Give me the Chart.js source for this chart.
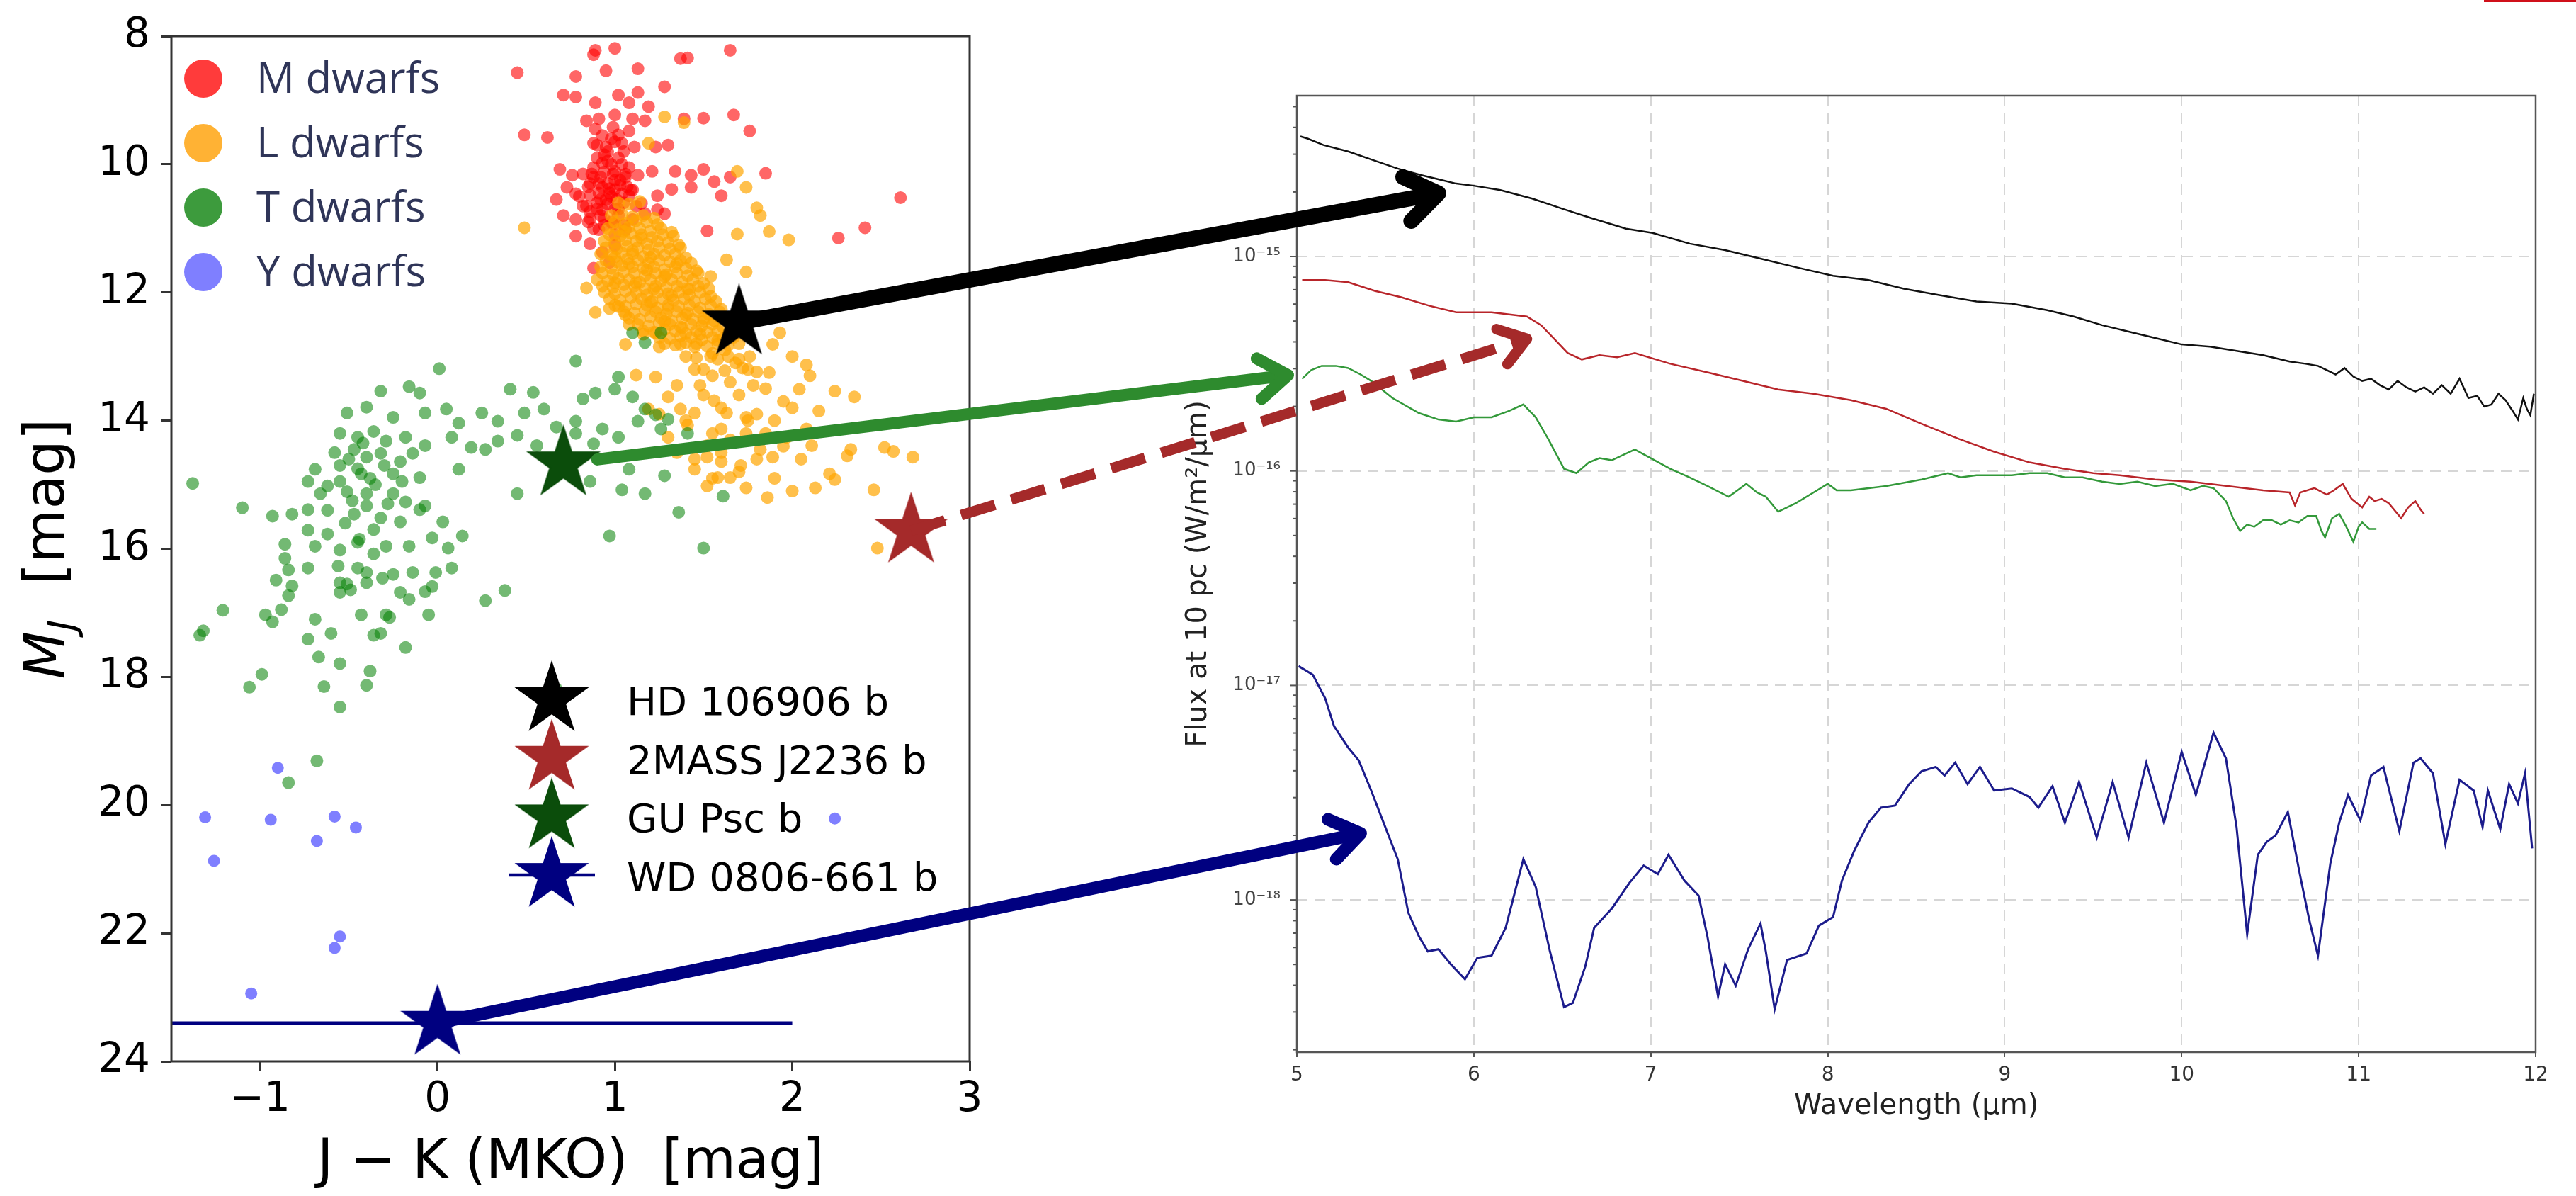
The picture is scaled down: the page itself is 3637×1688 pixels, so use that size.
<!DOCTYPE html>
<html>
<head>
<meta charset="utf-8">
<title>Brown dwarf CMD and mid-IR spectra</title>
<script src="https://cdn.jsdelivr.net/npm/chart.js"></script>
<style>
  body { margin: 0; background: #fff; width: 3637px; height: 1688px; overflow: hidden; position: relative; }
  canvas { position: absolute; top: 0; }
  #cmd { left: 0; }
  #spec { left: 1600px; }
  #arrows { left: 0; pointer-events: none; }
  #corner { position: absolute; left: 3507px; top: 0; width: 130px; height: 3px; background: #d0101a; }
</style>
</head>
<body>
<canvas id="cmd" width="1450" height="1688"></canvas>
<canvas id="spec" width="2037" height="1688"></canvas>
<canvas id="arrows" width="3637" height="1688"></canvas>
<div id="corner"></div>

<script>
// ---------- left panel: J-K (MKO) vs M_J ----------
const dwarfLabels = ['M dwarfs', 'L dwarfs', 'T dwarfs', 'Y dwarfs'];

const mDwarfs = [
  [0.45,8.57],[0.78,8.63],[0.89,8.22],[1.00,8.19],[0.88,8.29],[0.95,8.54],[1.13,8.51],[1.37,8.35],[1.41,8.34],[1.65,8.22],
  [0.71,8.92],[0.78,8.95],[0.89,9.04],[1.02,8.92],[1.08,9.04],[1.13,8.88],[1.19,9.10],[1.28,8.79],
  [0.84,9.32],[0.91,9.29],[1.00,9.23],[1.10,9.29],[1.17,9.32],[1.39,9.29],[1.50,9.28],[1.67,9.23],[1.76,9.48],
  [0.49,9.54],[0.62,9.58],[0.89,9.45],[0.99,9.42],[1.02,9.54],[1.08,9.48],
  [0.88,9.67],[0.95,9.73],[1.04,9.67],[1.11,9.73],[1.23,9.73],[1.30,9.70],
  [0.69,10.08],[0.76,10.17],[0.88,10.05],[0.93,9.98],[1.00,10.11],[1.08,10.05],[1.13,10.17],[1.21,10.11],[1.34,10.11],[1.43,10.17],[1.50,10.08],[1.56,10.27],[1.65,10.20],[1.85,10.14],
  [0.67,10.55],[0.73,10.36],[0.78,10.46],[0.86,10.30],[0.93,10.36],[1.00,10.39],[1.08,10.49],[1.15,10.61],[1.24,10.49],[1.32,10.39],[1.43,10.36],[1.60,10.49],
  [2.61,10.52],[1.52,11.04],[2.41,10.99],[2.26,11.15],
  [0.71,10.80],[0.78,10.86],[0.86,10.74],[0.93,10.71],[1.02,10.80],[1.10,10.86],[1.17,10.77],
  [0.78,11.12],[0.86,11.24],[0.91,11.02],[0.99,10.93],[1.06,11.02],[0.93,11.37],[1.00,11.27],[0.88,11.62],[0.97,11.53],[1.24,10.71],[1.28,10.77],
  [0.92,10.20],[0.96,10.30],[0.98,10.00],[1.03,10.25],[0.95,10.55],[1.05,10.60],[0.90,10.60],[1.00,10.70],[0.94,9.85],[1.02,9.90],
  [1.07,10.35],[0.97,10.45],[1.10,10.40],[0.85,10.90],[1.00,11.10],[1.05,10.95],[0.90,9.90],[0.98,9.60],[1.04,10.00],
  [0.96,9.95],[1.06,10.15],[0.91,10.45],[1.01,10.55],[0.87,10.15],[0.94,10.85],[1.12,10.65],[0.82,10.65],[0.99,10.15],
  [0.82,10.15],[0.88,10.20],[0.94,10.12],[1.00,10.25],[1.06,10.20],[0.85,10.35],[0.91,10.30],[0.97,10.38],[1.03,10.32],[1.09,10.40],
  [0.80,10.50],[0.86,10.48],[0.92,10.55],[0.98,10.50],[1.04,10.46],[0.84,10.65],[0.90,10.70],[0.96,10.62],[1.02,10.70],[0.86,10.85],
  [0.92,10.80],[0.98,10.90],[0.88,11.00],[0.94,10.95],[0.90,9.70],[0.96,9.80],[1.00,9.65],[0.93,9.55],[1.05,9.80]
];

const lDwarfs = [
  [1.28,9.26],[1.39,9.35],[1.19,9.67],[0.49,10.99],[1.69,10.11],[1.74,10.36],[1.80,10.68],[1.82,10.80],[1.69,11.09],[1.87,11.05],
  [1.98,11.18],[1.63,11.49],[1.74,11.68],[1.54,11.75],[0.84,11.93],[0.89,12.31],[1.02,12.22],[1.08,12.50],[1.06,12.81],[1.23,12.63],
  [1.37,12.81],[1.54,13.00],[1.89,12.81],[1.93,12.63],[2.00,13.00],[2.08,13.13],[1.87,13.25],[2.04,13.51],[2.24,13.54],[2.35,13.63],
  [2.15,13.85],[2.08,14.13],[1.97,14.26],[2.11,14.39],[2.33,14.45],[2.52,14.42],[2.57,14.48],[2.68,14.57],[2.31,14.55],[2.21,14.83],
  [2.24,14.92],[2.13,15.05],[2.46,15.08],[2.48,15.99],[1.86,15.20],[1.74,15.05],[1.52,15.02],[1.45,14.76],[1.58,14.89],[1.65,14.89],
  [1.23,13.32],[1.12,13.29],[1.30,13.63],[1.37,13.82],[1.45,13.88],[1.56,13.69],[1.63,13.88],[1.74,13.95],[1.60,14.13],[1.52,14.39],
  [1.74,14.20],[1.82,14.45],[1.89,14.57],[1.52,14.57],[1.60,14.64],[1.71,14.70],[1.30,14.26],[1.41,14.07],[1.19,13.82],
  [1.45,13.20],[1.55,13.30],[1.65,13.40],[1.75,13.20],[1.85,13.50],[1.95,13.70],[1.50,13.60],[1.60,13.80],[1.70,13.60],[1.80,13.90],
  [1.90,14.00],[2.00,13.80],[1.40,14.00],[1.55,14.20],[1.65,14.30],[1.75,14.00],[1.85,14.20],[1.95,14.40],[2.05,14.60],[1.60,14.50],
  [1.70,14.80],[1.80,14.60],[1.90,14.90],[2.00,15.10],[1.45,14.60],[1.55,14.90],[1.35,14.50],[1.25,13.90],[1.68,13.10],[1.78,13.45],
  [2.10,13.30],[1.35,13.45],[1.48,13.45],
  [1.02,10.60],[1.08,10.62],[1.14,10.58],
  [0.98,10.80],[1.04,10.78],[1.10,10.82],[1.16,10.80],[1.22,10.84],
  [0.96,11.00],[1.02,11.02],[1.08,10.98],[1.14,11.00],[1.20,11.04],[1.26,11.00],[1.32,11.06],
  [0.94,11.20],[1.00,11.22],[1.06,11.18],[1.12,11.20],[1.18,11.24],[1.24,11.20],[1.30,11.22],[1.36,11.26],
  [0.92,11.40],[0.98,11.42],[1.04,11.38],[1.10,11.40],[1.16,11.44],[1.22,11.40],[1.28,11.42],[1.34,11.40],[1.40,11.46],
  [0.92,11.60],[0.98,11.62],[1.04,11.58],[1.10,11.60],[1.16,11.62],[1.22,11.60],[1.28,11.64],[1.34,11.60],[1.40,11.62],[1.46,11.66],
  [0.90,11.80],[0.96,11.82],[1.02,11.78],[1.08,11.80],[1.14,11.84],[1.20,11.80],[1.26,11.82],[1.32,11.80],[1.38,11.84],[1.44,11.80],[1.50,11.86],
  [0.94,12.00],[1.00,12.02],[1.06,11.98],[1.12,12.00],[1.18,12.04],[1.24,12.00],[1.30,12.02],[1.36,12.00],[1.42,12.04],[1.48,12.00],[1.54,12.06],
  [1.00,12.20],[1.06,12.22],[1.12,12.18],[1.18,12.20],[1.24,12.24],[1.30,12.20],[1.36,12.22],[1.42,12.20],[1.48,12.24],[1.54,12.20],[1.60,12.26],
  [1.08,12.40],[1.14,12.42],[1.20,12.38],[1.26,12.40],[1.32,12.44],[1.38,12.40],[1.44,12.42],[1.50,12.40],[1.56,12.44],[1.62,12.40],
  [1.16,12.60],[1.22,12.62],[1.28,12.58],[1.34,12.60],[1.40,12.64],[1.46,12.60],[1.52,12.62],[1.58,12.60],[1.64,12.64],[1.70,12.60],
  [1.28,12.80],[1.34,12.82],[1.40,12.78],[1.46,12.80],[1.52,12.84],[1.58,12.80],[1.64,12.82],[1.70,12.80],
  [1.40,13.00],[1.46,13.02],[1.58,13.04],[1.64,13.00],[1.70,13.04],[1.76,13.00],
  [1.50,13.20],[1.62,13.22],[1.72,13.18],[1.80,13.24],
  [1.00,10.90],[1.06,10.92],[1.12,10.88],[1.18,10.90],[1.24,10.94],
  [0.97,11.10],[1.03,11.12],[1.09,11.08],[1.15,11.10],[1.21,11.14],[1.27,11.10],[1.33,11.12],
  [0.95,11.30],[1.01,11.32],[1.07,11.28],[1.13,11.30],[1.19,11.34],[1.25,11.30],[1.31,11.32],[1.37,11.30],
  [0.95,11.50],[1.01,11.52],[1.07,11.48],[1.13,11.50],[1.19,11.54],[1.25,11.50],[1.31,11.52],[1.37,11.50],[1.43,11.54],
  [0.93,11.70],[0.99,11.72],[1.05,11.68],[1.11,11.70],[1.17,11.74],[1.23,11.70],[1.29,11.72],[1.35,11.70],[1.41,11.74],[1.47,11.70],
  [0.93,11.90],[0.99,11.92],[1.05,11.88],[1.11,11.90],[1.17,11.94],[1.23,11.90],[1.29,11.92],[1.35,11.90],[1.41,11.94],[1.47,11.90],[1.53,11.94],
  [0.97,12.10],[1.03,12.12],[1.09,12.08],[1.15,12.10],[1.21,12.14],[1.27,12.10],[1.33,12.12],[1.39,12.10],[1.45,12.14],[1.51,12.10],[1.57,12.14],
  [1.05,12.30],[1.11,12.32],[1.17,12.28],[1.23,12.30],[1.29,12.34],[1.35,12.30],[1.41,12.32],[1.47,12.30],[1.53,12.34],[1.59,12.30],
  [1.13,12.50],[1.19,12.52],[1.25,12.48],[1.31,12.50],[1.37,12.54],[1.43,12.50],[1.49,12.52],[1.55,12.50],[1.61,12.54],[1.67,12.50],
  [1.25,12.70],[1.31,12.72],[1.37,12.68],[1.43,12.70],[1.49,12.74],[1.55,12.70],[1.61,12.72],[1.67,12.70],
  [1.05,11.05],[1.15,11.15],[1.10,11.35],[1.20,11.45],[1.08,11.55],[1.18,11.65],[1.28,11.75],[1.12,11.85],[1.22,11.95],[1.32,12.05],
  [1.20,12.15],[1.30,12.25],[1.40,12.35],[1.28,12.45],[1.38,12.55],[1.48,12.65],[1.45,12.85],[1.55,12.95],[1.00,11.45],[1.00,11.85],
  [1.35,11.55],[1.42,11.95],[1.50,12.45],[1.58,12.75],[1.62,12.90],[1.06,12.35],[1.16,12.65],[1.25,12.85],[0.97,12.25]
];

const tDwarfs = [
  [1.10,12.63],[1.26,12.63],[1.17,12.78],[0.78,13.07],[0.01,13.19],[1.02,13.32],[-0.32,13.54],[-0.16,13.47],[-0.10,13.57],[0.41,13.51],
  [0.54,13.56],[0.82,13.66],[0.89,13.57],[1.00,13.51],[1.10,13.63],[1.17,13.82],[1.23,13.91],
  [-0.51,13.88],[-0.40,13.79],[-0.25,13.95],[-0.07,13.88],[0.05,13.82],[0.12,14.04],[0.25,13.88],[0.34,14.01],[0.49,13.88],[0.60,13.82],
  [0.67,14.10],[0.78,14.01],[0.93,14.13],[1.02,14.26],[1.13,14.01],[1.26,14.13],[1.41,14.20],[1.30,13.98],
  [-0.55,14.20],[-0.45,14.26],[-0.36,14.17],[-0.29,14.32],[-0.18,14.26],[-0.07,14.39],[0.08,14.26],[0.19,14.42],[0.27,14.45],[0.34,14.32],
  [0.45,14.23],[0.56,14.39],[0.78,14.20],[0.88,14.36],
  [-0.47,14.45],[-0.40,14.57],[-0.32,14.51],[-0.21,14.64],[-0.14,14.51],[-0.55,14.70],[-0.43,14.83],[-0.25,14.83],[-0.10,14.89],[0.12,14.76],
  [-0.73,14.95],[-0.62,15.02],[-0.51,15.11],[-0.40,15.14],[-0.25,15.14],[-0.18,15.27],[-0.07,15.33],[-0.69,14.76],[-0.66,15.14],[-0.40,15.33],
  [-0.47,15.46],[-0.32,15.52],[-0.21,15.58],[-0.10,15.39],[0.03,15.58],[0.14,15.80],
  [0.45,15.14],[1.04,15.08],[1.17,15.14],[1.28,14.86],[1.36,15.43],[1.61,15.18],[1.50,15.99],[0.97,15.80],[0.86,14.95],[1.08,14.76],
  [-1.38,14.98],[-1.10,15.36],[-0.93,15.49],[-0.82,15.46],[-0.73,15.39],[-0.73,15.71],[-0.86,15.93],[-0.69,15.96],[-0.62,15.77],[-0.55,16.02],
  [-0.45,15.90],[-0.36,16.08],[-0.29,15.96],[-0.16,15.96],[-0.03,15.83],[0.06,15.99],
  [-0.86,16.15],[-0.84,16.33],[-0.73,16.30],[-0.56,16.27],[-0.45,16.30],[-0.40,16.37],[-0.25,16.40],[-0.14,16.37],[-0.01,16.37],[0.08,16.30],
  [-0.91,16.49],[-0.55,16.53],[-0.40,16.53],[-0.31,16.46],[-0.55,16.68],[-0.21,16.68],[-0.03,16.59],[0.27,16.81],[0.38,16.65],
  [-1.21,16.96],[-0.97,17.03],[-0.43,17.03],[-0.29,17.03],[-0.05,17.03],[-1.32,17.28],
  [-0.82,16.58],[-0.51,16.55],[-0.84,16.73],[-0.49,16.64],[-0.16,16.79],[-0.07,16.67],[-0.88,16.95],[-0.69,17.10],[-0.27,17.07],[-0.93,17.14],
  [-1.34,17.35],[-0.73,17.41],[-0.60,17.32],[-0.36,17.35],[-0.32,17.32],[-0.18,17.54],[-0.67,17.69],[-0.55,17.79],[-0.38,17.91],[-0.99,17.96],
  [-1.06,18.16],[-0.64,18.15],[-0.40,18.13],[-0.55,18.47],[-0.68,19.31],[-0.84,19.65],[0.67,18.19],
  [-0.50,14.60],[-0.45,14.75],[-0.38,14.90],[-0.55,14.95],[-0.48,15.25],[-0.35,15.00],[-0.30,14.70],[-0.42,14.35],[-0.58,14.50],[-0.28,15.30],
  [-0.52,15.60],[-0.36,15.70],[-0.20,14.95],[-0.62,15.40],[-0.44,15.85]
];

const yDwarfs = [
  [-0.90,19.42],[-1.31,20.19],[-0.94,20.23],[-0.58,20.18],[-0.46,20.35],[-0.68,20.56],[-1.26,20.87],
  [-0.55,22.05],[-0.58,22.23],[-1.05,22.94],[2.24,20.21]
];

// companions (legend order)
const planetNames = ['HD 106906 b', '2MASS J2236 b', 'GU Psc b', 'WD 0806-661 b'];
const planetJK = [1.70, 2.67, 0.71, 0.00];
const planetMJ = [12.47, 15.72, 14.67, 23.40];
const wdJKerr = 2.0;

const xTicksCMD = [-1, 0, 1, 2, 3];
const yTicksCMD = [8, 10, 12, 14, 16, 18, 20, 22, 24];
const xTitleCMD = 'J \u2212 K (MKO)  [mag]';

// ---------- right panel: spectra, [wavelength (um), log10 flux (W/m2/um)] ----------
const specHD = [
  [5.02,-14.44],[5.06,-14.45],[5.15,-14.48],[5.29,-14.51],[5.43,-14.55],[5.57,-14.59],[5.70,-14.62],[5.80,-14.64],[5.90,-14.66],[6.00,-14.67],
  [6.15,-14.69],[6.33,-14.73],[6.51,-14.78],[6.66,-14.82],[6.86,-14.87],[7.01,-14.89],[7.22,-14.94],[7.42,-14.97],[7.62,-15.01],[7.82,-15.05],
  [8.03,-15.09],[8.23,-15.11],[8.43,-15.15],[8.63,-15.18],[8.84,-15.21],[9.04,-15.22],[9.24,-15.25],[9.39,-15.28],[9.55,-15.32],[9.70,-15.35],
  [9.85,-15.38],[10.00,-15.41],[10.16,-15.42],[10.31,-15.44],[10.46,-15.46],[10.61,-15.49],[10.70,-15.50],[10.77,-15.51],[10.82,-15.53],[10.87,-15.55],
  [10.92,-15.52],[10.97,-15.56],[11.02,-15.58],[11.07,-15.57],[11.12,-15.60],[11.17,-15.62],[11.22,-15.58],[11.27,-15.61],[11.32,-15.63],[11.37,-15.61],
  [11.42,-15.64],[11.47,-15.60],[11.52,-15.64],[11.57,-15.57],[11.62,-15.66],[11.67,-15.65],[11.71,-15.70],[11.75,-15.69],[11.79,-15.64],[11.83,-15.67],
  [11.87,-15.72],[11.90,-15.76],[11.93,-15.66],[11.95,-15.71],[11.97,-15.74],[11.99,-15.64]
];
const spec2M = [
  [5.03,-15.11],[5.16,-15.11],[5.29,-15.12],[5.44,-15.16],[5.59,-15.19],[5.75,-15.23],[5.90,-15.26],[6.10,-15.26],[6.30,-15.28],[6.38,-15.32],
  [6.45,-15.38],[6.53,-15.45],[6.61,-15.48],[6.71,-15.46],[6.81,-15.47],[6.91,-15.45],[7.11,-15.50],[7.32,-15.54],[7.52,-15.58],[7.72,-15.62],
  [7.92,-15.64],[8.13,-15.67],[8.33,-15.71],[8.53,-15.78],[8.74,-15.85],[8.94,-15.91],[9.14,-15.96],[9.34,-15.99],[9.50,-16.01],[9.65,-16.02],
  [9.85,-16.04],[10.05,-16.05],[10.26,-16.07],[10.46,-16.09],[10.61,-16.10],[10.64,-16.16],[10.67,-16.10],[10.75,-16.08],[10.82,-16.11],[10.86,-16.09],
  [10.91,-16.06],[10.96,-16.13],[11.02,-16.17],[11.06,-16.12],[11.09,-16.14],[11.13,-16.13],[11.17,-16.15],[11.21,-16.19],[11.24,-16.22],[11.28,-16.17],
  [11.32,-16.14],[11.35,-16.18],[11.37,-16.20]
];
const specGU = [
  [5.03,-15.57],[5.08,-15.53],[5.14,-15.51],[5.22,-15.51],[5.29,-15.52],[5.36,-15.55],[5.42,-15.58],[5.54,-15.66],[5.69,-15.73],[5.80,-15.76],
  [5.90,-15.77],[6.00,-15.75],[6.10,-15.75],[6.20,-15.72],[6.28,-15.69],[6.35,-15.75],[6.42,-15.85],[6.51,-15.99],[6.58,-16.01],[6.65,-15.96],
  [6.71,-15.94],[6.78,-15.95],[6.83,-15.93],[6.91,-15.90],[7.00,-15.94],[7.11,-15.99],[7.22,-16.03],[7.32,-16.07],[7.44,-16.12],[7.49,-16.09],
  [7.54,-16.06],[7.60,-16.10],[7.65,-16.12],[7.72,-16.19],[7.77,-16.17],[7.82,-16.15],[7.92,-16.10],[8.00,-16.06],[8.05,-16.09],[8.13,-16.09],
  [8.33,-16.07],[8.53,-16.04],[8.68,-16.01],[8.75,-16.03],[8.84,-16.02],[9.04,-16.02],[9.14,-16.01],[9.24,-16.01],[9.34,-16.03],[9.44,-16.03],
  [9.55,-16.05],[9.65,-16.06],[9.75,-16.05],[9.85,-16.07],[9.95,-16.06],[10.05,-16.09],[10.12,-16.07],[10.18,-16.08],[10.25,-16.14],[10.29,-16.22],
  [10.33,-16.28],[10.37,-16.25],[10.41,-16.26],[10.46,-16.23],[10.51,-16.23],[10.56,-16.25],[10.61,-16.23],[10.66,-16.24],[10.71,-16.21],[10.76,-16.21],
  [10.79,-16.28],[10.81,-16.31],[10.85,-16.22],[10.89,-16.20],[10.93,-16.26],[10.97,-16.33],[11.00,-16.26],[11.02,-16.24],[11.06,-16.27],[11.10,-16.27]
];
const specWD = [
  [5.01,-16.91],[5.09,-16.95],[5.16,-17.06],[5.21,-17.19],[5.29,-17.29],[5.35,-17.35],[5.42,-17.49],[5.49,-17.64],[5.57,-17.81],[5.63,-18.06],
  [5.69,-18.17],[5.74,-18.24],[5.80,-18.23],[5.87,-18.30],[5.95,-18.37],[6.02,-18.27],[6.10,-18.26],[6.18,-18.13],[6.28,-17.81],[6.35,-17.94],
  [6.43,-18.24],[6.51,-18.50],[6.56,-18.48],[6.63,-18.31],[6.68,-18.13],[6.78,-18.04],[6.88,-17.92],[6.96,-17.84],[7.04,-17.88],[7.10,-17.79],
  [7.19,-17.91],[7.27,-17.98],[7.32,-18.17],[7.38,-18.45],[7.42,-18.30],[7.48,-18.40],[7.55,-18.23],[7.62,-18.11],[7.65,-18.24],[7.70,-18.51],
  [7.77,-18.28],[7.88,-18.25],[7.95,-18.12],[8.03,-18.08],[8.08,-17.91],[8.15,-17.77],[8.23,-17.64],[8.30,-17.57],[8.38,-17.56],[8.46,-17.46],
  [8.53,-17.40],[8.61,-17.38],[8.66,-17.42],[8.72,-17.36],[8.79,-17.46],[8.86,-17.38],[8.94,-17.49],[9.04,-17.48],[9.14,-17.52],[9.19,-17.57],
  [9.27,-17.47],[9.34,-17.64],[9.42,-17.45],[9.52,-17.71],[9.61,-17.45],[9.70,-17.71],[9.80,-17.36],[9.90,-17.64],[10.00,-17.31],[10.08,-17.51],
  [10.18,-17.22],[10.25,-17.34],[10.31,-17.66],[10.37,-18.16],[10.43,-17.79],[10.48,-17.73],[10.53,-17.70],[10.60,-17.59],[10.67,-17.89],[10.72,-18.09],
  [10.77,-18.26],[10.84,-17.83],[10.89,-17.64],[10.94,-17.51],[11.01,-17.63],[11.07,-17.42],[11.14,-17.38],[11.23,-17.68],[11.31,-17.36],[11.35,-17.34],
  [11.42,-17.41],[11.49,-17.74],[11.57,-17.44],[11.65,-17.49],[11.70,-17.66],[11.73,-17.49],[11.80,-17.67],[11.85,-17.46],[11.90,-17.55],[11.94,-17.41],
  [11.98,-17.76]
];

const waveTicks = [5, 6, 7, 8, 9, 10, 11, 12];
const logFluxMin = -18.71, logFluxMax = -14.25;

// where each arrow lands on the spectra panel (same order as planetNames)
const arrowTipWave = [5.80, 6.30, 4.95, 5.36];
const arrowTipLogFlux = [-14.705, -15.384, -15.553, -17.69];

// ---------- styles ----------
const dwarfColors = ['rgba(255,0,0,0.6)', 'rgba(255,165,0,0.7)', 'rgba(0,128,0,0.55)', 'rgba(0,0,255,0.5)'];
const dwarfLegendColors = ['#ff3b3b', '#ffb234', '#3d9b3d', '#7f7fff'];
const planetColors = ['#000000', '#a52a2a', '#0b4d0b', '#000080'];
const specColors = ['#111111', '#b8252a', '#33993a', '#1c1c8c'];
const arrowColors = ['#000000', '#a52a2a', '#2e8b2e', '#000080'];
const arrowWidths = [22, 15, 17, 18];
const arrowDashes = [[], [50, 24], [], []];
const arrowGaps = [0, 0, 48, 0];
const arrowHeads = [55, 45, 50, 50];

const SUP = {'-':'\u207B','0':'\u2070','1':'\u00B9','2':'\u00B2','3':'\u00B3','4':'\u2074','5':'\u2075','6':'\u2076','7':'\u2077','8':'\u2078','9':'\u2079'};
function pow10Label(v) {
  const e = Math.round(Math.log10(v));
  if (Math.abs(Math.log10(v) - e) > 1e-6) return '';
  return '10' + String(e).split('').map(c => SUP[c]).join('');
}
function isDecade(v) {
  const l = Math.log10(v);
  return Math.abs(l - Math.round(l)) < 1e-6;
}

function starImage(color, R) {
  const c = document.createElement('canvas');
  const s = Math.ceil(2 * R + 6);
  c.width = c.height = s;
  const g = c.getContext('2d');
  g.translate(s / 2, s / 2);
  g.beginPath();
  for (let k = 0; k < 10; k++) {
    const a = -Math.PI / 2 + k * Math.PI / 5;
    const r = k % 2 === 0 ? R : R * 0.382;
    if (k === 0) g.moveTo(r * Math.cos(a), r * Math.sin(a));
    else g.lineTo(r * Math.cos(a), r * Math.sin(a));
  }
  g.closePath();
  g.fillStyle = color; g.strokeStyle = color; g.lineWidth = 2;
  g.fill(); g.stroke();
  return c;
}
const starImgs = planetColors.map(c => starImage(c, 52));

const toXY = arr => arr.map(p => ({x: p[0], y: p[1]}));

// ---------- left chart ----------
const cmdDecor = {
  id: 'cmdDecor',
  afterDraw(chart) {
    const g = chart.ctx, a = chart.chartArea;
    g.save();
    g.strokeStyle = '#333'; g.lineWidth = 3;
    g.strokeRect(a.left, a.top, a.right - a.left, a.bottom - a.top);

    // y title: M_J  [mag]
    g.save();
    g.translate(90, (a.top + a.bottom) / 2);
    g.rotate(-Math.PI / 2);
    g.fillStyle = '#000';
    g.textBaseline = 'alphabetic';
    const fM = 'italic 78px "DejaVu Sans"', fJ = 'italic 55px "DejaVu Sans"', fR = '78px "DejaVu Sans"';
    g.font = fM; const wM = g.measureText('M').width;
    g.font = fJ; const wJ = g.measureText('J').width;
    g.font = fR; const wR = g.measureText('  [mag]').width;
    let x = -(wM + wJ + wR) / 2;
    g.font = fM; g.fillText('M', x, 0); x += wM;
    g.font = fJ; g.fillText('J', x, 16); x += wJ;
    g.font = fR; g.fillText('  [mag]', x, 0);
    g.restore();

    // dwarf legend
    g.textAlign = 'left'; g.textBaseline = 'alphabetic';
    dwarfLabels.forEach((lab, i) => {
      const y = 111 + i * 91;
      g.fillStyle = dwarfLegendColors[i];
      g.beginPath(); g.arc(287, y, 27, 0, 2 * Math.PI); g.fill();
      g.fillStyle = '#2f3558'; g.font = '60px "Open Sans"';
      g.fillText(lab, 362, y + 20);
    });

    // companion legend
    planetNames.forEach((name, i) => {
      const y = 987 + i * 82.7;
      if (i === 3) {
        g.strokeStyle = planetColors[i]; g.lineWidth = 4.5;
        g.beginPath(); g.moveTo(719, y); g.lineTo(840, y); g.stroke();
      }
      g.drawImage(starImgs[i], 779 - starImgs[i].width / 2, y - starImgs[i].height / 2);
      g.fillStyle = '#000'; g.font = '56px "DejaVu Sans"';
      g.fillText(name, 885, y + 22);
    });
    g.restore();
  }
};

const cmdChart = new Chart(document.getElementById('cmd'), {
  type: 'scatter',
  data: {
    datasets: [
      { label: 'companions', data: planetJK.map((v, i) => ({x: v, y: planetMJ[i]})),
        pointStyle: ctx => starImgs[ctx.dataIndex], pointRadius: 50, order: 0 },
      { label: 'WD 0806-661 b error', type: 'line', showLine: true, pointRadius: 0,
        data: [{x: planetJK[3] - wdJKerr, y: planetMJ[3]}, {x: planetJK[3] + wdJKerr, y: planetMJ[3]}],
        borderColor: planetColors[3], borderWidth: 4.5, order: 1 },
      { label: dwarfLabels[3], data: toXY(yDwarfs), backgroundColor: dwarfColors[3], pointRadius: 8.5, borderWidth: 0, order: 2 },
      { label: dwarfLabels[2], data: toXY(tDwarfs), backgroundColor: dwarfColors[2], pointRadius: 9, borderWidth: 0, order: 3 },
      { label: dwarfLabels[1], data: toXY(lDwarfs), backgroundColor: dwarfColors[1], pointRadius: 9, borderWidth: 0, order: 4 },
      { label: dwarfLabels[0], data: toXY(mDwarfs), backgroundColor: dwarfColors[0], pointRadius: 9, borderWidth: 0, order: 5 }
    ]
  },
  options: {
    responsive: false, animation: false, devicePixelRatio: 1, events: [],
    layout: { padding: { left: 0, top: 37, right: 81, bottom: 0 } },
    plugins: { legend: { display: false }, tooltip: { enabled: false } },
    scales: {
      x: {
        type: 'linear', min: -1.5, max: 3,
        afterBuildTicks: s => { s.ticks = xTicksCMD.map(v => ({value: v})); },
        afterFit: s => { s.height = 190; },
        ticks: { font: { family: 'DejaVu Sans', size: 58 }, color: '#000', padding: 7, maxRotation: 0, autoSkip: false,
                 callback: v => String(v).replace('-', '\u2212') },
        grid: { drawOnChartArea: false, tickLength: 13, tickWidth: 3, tickColor: '#333' },
        border: { display: false },
        title: { display: true, text: xTitleCMD, font: { family: 'DejaVu Sans', size: 76 }, color: '#000', padding: { top: 0, bottom: 0 } }
      },
      y: {
        type: 'linear', reverse: true, min: 8, max: 24,
        afterBuildTicks: s => { s.ticks = yTicksCMD.map(v => ({value: v})); },
        afterFit: s => { s.width = 242; },
        ticks: { font: { family: 'DejaVu Sans', size: 58 }, color: '#000', padding: 16, autoSkip: false },
        grid: { drawOnChartArea: false, tickLength: 14, tickWidth: 3, tickColor: '#333' },
        border: { display: false }
      }
    }
  },
  plugins: [cmdDecor]
});

// ---------- right chart ----------
const specDecor = {
  id: 'specDecor',
  afterDraw(chart) {
    const g = chart.ctx, a = chart.chartArea, ys = chart.scales.y;
    g.save();
    g.strokeStyle = '#555'; g.lineWidth = 2.5;
    g.strokeRect(a.left, a.top, a.right - a.left, a.bottom - a.top);
    g.lineWidth = 2;
    ys.ticks.forEach(t => {
      const py = ys.getPixelForValue(t.value);
      const len = isDecade(t.value) ? 10 : 5;
      g.beginPath(); g.moveTo(a.left - len, py); g.lineTo(a.left, py); g.stroke();
    });
    g.restore();
  }
};

const spectra = [specHD, spec2M, specGU, specWD];
const specChart = new Chart(document.getElementById('spec'), {
  type: 'line',
  data: {
    datasets: spectra.map((s, i) => ({
      label: planetNames[i],
      data: s.map(p => ({x: p[0], y: Math.pow(10, p[1])})),
      borderColor: specColors[i], borderWidth: i === 3 ? 3 : 2.5,
      pointRadius: 0, tension: 0, fill: false
    }))
  },
  options: {
    responsive: false, animation: false, devicePixelRatio: 1, events: [],
    parsing: false,
    layout: { padding: { left: 0, top: 135, right: 57, bottom: 0 } },
    plugins: { legend: { display: false }, tooltip: { enabled: false } },
    scales: {
      x: {
        type: 'linear', min: 5, max: 12,
        afterBuildTicks: s => { s.ticks = waveTicks.map(v => ({value: v})); },
        afterFit: s => { s.height = 203; },
        ticks: { font: { family: 'DejaVu Sans', size: 28 }, color: '#333', padding: 9, maxRotation: 0, autoSkip: false },
        grid: {
          color: ctx => (ctx.tick && (ctx.tick.value === 5 || ctx.tick.value === 12)) ? 'rgba(0,0,0,0)' : '#d6d6d6',
          lineWidth: 2, tickLength: 7, tickWidth: 2, tickColor: '#555', tickBorderDash: []
        },
        border: { display: false, dash: [15, 10] },
        title: { display: true, text: 'Wavelength (\u03BCm)', font: { family: 'DejaVu Sans', size: 40 }, color: '#222', padding: { top: 0, bottom: 102 } }
      },
      y: {
        type: 'logarithmic', min: Math.pow(10, logFluxMin), max: Math.pow(10, logFluxMax),
        afterBuildTicks: s => {
          const t = [];
          for (let e = Math.floor(logFluxMin); e <= Math.ceil(logFluxMax); e++) {
            for (let m = 1; m <= 9; m++) {
              const v = m * Math.pow(10, e);
              const l = Math.log10(v);
              if (l >= logFluxMin && l <= logFluxMax) t.push({value: v});
            }
          }
          s.ticks = t;
        },
        afterFit: s => { s.width = 231; },
        ticks: { font: { family: 'DejaVu Sans', size: 26 }, color: '#444', padding: 23, autoSkip: false, callback: v => pow10Label(v) },
        grid: { color: ctx => (ctx.tick && isDecade(ctx.tick.value)) ? '#d6d6d6' : 'rgba(0,0,0,0)', lineWidth: 2, drawTicks: false },
        border: { display: false, dash: [15, 10] },
        title: { display: true, text: 'Flux at 10 pc (W/m\u00B2/\u03BCm)', font: { family: 'DejaVu Sans', size: 40 }, color: '#222', padding: { top: 69, bottom: 0 } }
      }
    }
  },
  plugins: [specDecor]
});

// ---------- arrows linking the two panels ----------
function drawArrow(g, x0, y0, x1, y1, color, width, dash, gap, head) {
  const ang = Math.atan2(y1 - y0, x1 - x0);
  const c = Math.cos(ang), s = Math.sin(ang);
  g.strokeStyle = color; g.lineWidth = width; g.lineJoin = 'round';
  g.lineCap = dash.length ? 'butt' : 'round';
  g.setLineDash(dash);
  g.beginPath();
  g.moveTo(x0 + c * gap, y0 + s * gap);
  g.lineTo(x1 - c * width * 0.4, y1 - s * width * 0.4);
  g.stroke();
  g.setLineDash([]);
  g.lineCap = 'round';
  const spread = 35 * Math.PI / 180;
  g.beginPath();
  g.moveTo(x1 - head * Math.cos(ang - spread), y1 - head * Math.sin(ang - spread));
  g.lineTo(x1, y1);
  g.lineTo(x1 - head * Math.cos(ang + spread), y1 - head * Math.sin(ang + spread));
  g.stroke();
}

function drawArrows() {
  const cv = document.getElementById('arrows');
  const g = cv.getContext('2d');
  g.clearRect(0, 0, cv.width, cv.height);
  const specLeft = document.getElementById('spec').offsetLeft;
  for (let i = planetNames.length - 1; i >= 0; i--) {
    const x0 = cmdChart.scales.x.getPixelForValue(planetJK[i]);
    const y0 = cmdChart.scales.y.getPixelForValue(planetMJ[i]);
    const x1 = specLeft + specChart.scales.x.getPixelForValue(arrowTipWave[i]);
    const y1 = specChart.scales.y.getPixelForValue(Math.pow(10, arrowTipLogFlux[i]));
    drawArrow(g, x0, y0, x1, y1, arrowColors[i], arrowWidths[i], arrowDashes[i], arrowGaps[i], arrowHeads[i]);
  }
}
drawArrows();
</script>
</body>
</html>
